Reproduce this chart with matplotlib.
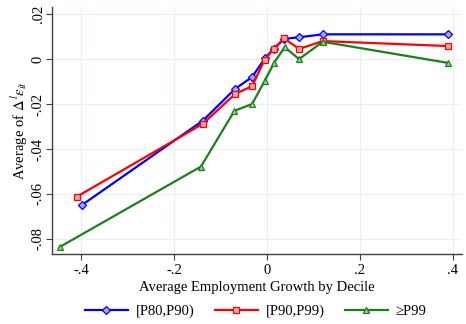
import numpy as np
import matplotlib
matplotlib.use("Agg")
import matplotlib.pyplot as plt

plt.rcParams['font.family'] = ['Liberation Serif', 'DejaVu Serif']
plt.rcParams['mathtext.fontset'] = 'stix'

# employment growth by decile (x) and average change (y)
x_p80 = [-0.398, -0.138, -0.069, -0.032, -0.004, 0.014, 0.037, 0.069, 0.120, 0.389]
y_p80 = [-0.0649, -0.0274, -0.0133, -0.0080, 0.0005, 0.0045, 0.0090, 0.0097, 0.0110, 0.0110]

x_p90 = [-0.409, -0.138, -0.069, -0.032, -0.005, 0.014, 0.037, 0.069, 0.120, 0.389]
y_p90 = [-0.0612, -0.0288, -0.0156, -0.0120, -0.0003, 0.0044, 0.0092, 0.0045, 0.0080, 0.0058]

x_p99 = [-0.446, -0.142, -0.070, -0.032, -0.005, 0.015, 0.038, 0.069, 0.120, 0.389]
y_p99 = [-0.0836, -0.0478, -0.0230, -0.0200, -0.0097, -0.0017, 0.0053, 0.0000, 0.0077, -0.0017]

xticks = [-0.4, -0.2, 0, 0.2, 0.4]
xtick_labels = ['-.4', '-.2', '0', '.2', '.4']
yticks = [-0.08, -0.06, -0.04, -0.02, 0, 0.02]
ytick_labels = ['-.08', '-.06', '-.04', '-.02', '0', '.02']

fig = plt.figure(figsize=(4.66, 3.24), dpi=100)
ax = fig.add_axes([0.112, 0.216, 0.879, 0.762])

ax.plot(x_p80, y_p80, '-', color='#0000ff', lw=1.6, marker='D', ms=4.5,
        mfc='#a8a8ff', mec='#0000ff', mew=0.9, label='[P80,P90)', zorder=3)
ax.plot(x_p90, y_p90, '-', color='#ff0000', lw=1.6, marker='s', ms=5,
        mfc='#ffa8a8', mec='#ff0000', mew=0.9, label='[P90,P99)', zorder=3)
ax.plot(x_p99, y_p99, '-', color='#1a801a', lw=1.6, marker='^', ms=5,
        mfc='#a0c8a0', mec='#1a801a', mew=0.9, label='\u2265P99', zorder=3)

ax.set_xlim(-0.462, 0.419)
ax.set_ylim(-0.0867, 0.0231)
ax.set_xticks(xticks)
ax.set_xticklabels(xtick_labels)
ax.set_yticks(yticks)
ax.set_yticklabels(ytick_labels, rotation=90, va='center')
ax.grid(True, color='#e8f0f2', lw=0.9)
ax.set_axisbelow(True)
for s in ['top', 'right']:
    ax.spines[s].set_visible(False)
for s in ['left', 'bottom']:
    ax.spines[s].set_color('#404040')
    ax.spines[s].set_linewidth(1.0)
ax.tick_params(axis='both', labelsize=10.5, color='#404040', length=4, width=0.8)
ax.tick_params(axis='y', pad=1.5)
ax.tick_params(axis='x', pad=3)

ax.set_xlabel('Average Employment Growth by Decile', fontsize=10.5, labelpad=3)
ax.set_ylabel(r'Average of $\Delta^{\,l}\epsilon_{it}$', fontsize=10.5, labelpad=2)

fig.legend(loc='center', bbox_to_anchor=(0.549, 0.04), ncol=3, frameon=False,
           fontsize=10.5, handlelength=2.95, columnspacing=1.37, handletextpad=0.55,
           borderpad=0, borderaxespad=0)

fig.savefig('out.png', dpi=100)
